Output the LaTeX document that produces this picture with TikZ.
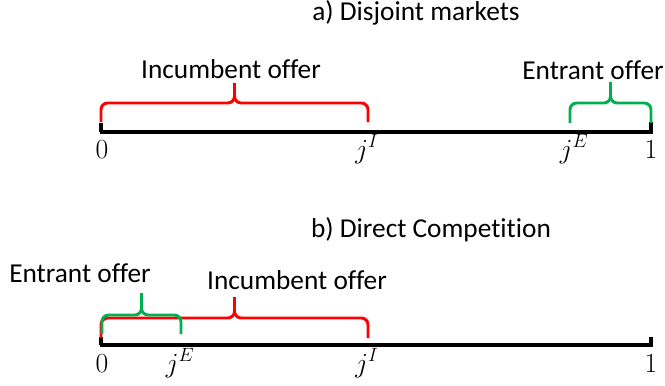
\documentclass[tikz,border=0pt]{standalone}
\usepackage{xcolor}
\usepackage{amsmath}
\usepackage{fontspec}
\setmainfont{Carlito}[Ligatures={NoCommon}]
\usepackage{tikz}
\definecolor{incred}{RGB}{255,0,0}
\definecolor{entgreen}{RGB}{0,176,80}
\tikzset{
  axis/.style={line width=3pt},
  txt/.style={font=\fontsize{20.5}{24}\selectfont,anchor=base,inner sep=0pt},
  lab/.style={font=\fontsize{21}{24}\selectfont,anchor=base,inner sep=0pt},
}
% brace: colour, left x, right x, bottom y, line y, tip y
\newcommand{\offerbrace}[6]{%
  \draw[#1,line width=2.2pt,rounded corners=5pt]
    (#2,#4) -- (#2,#5) -- ({(#2+#3)/2},#5) -- ({(#2+#3)/2},#6);
  \draw[#1,line width=2.2pt,rounded corners=5pt]
    (#3,#4) -- (#3,#5) -- ({(#2+#3)/2},#5) -- ({(#2+#3)/2},#6);
}

\begin{document}
\begin{tikzpicture}[x=0.75pt,y=-0.75pt]
  \useasboundingbox (0,0) rectangle (665,386);
  % a) Disjoint markets
  \node[txt] (titleA) at (416,20) {a) Disjoint markets};
  \coordinate (a0) at (100,132);
  \coordinate (a1) at (653,132);
  \draw[axis] (a0) -- (a1);
  \draw[axis] (101,132) -- (101,123);
  \draw[axis] (651,132) -- (651,122);
  \node[lab] (zeroA) at (102,158) {$0$};
  \node[lab] (jIA) at (367,158) {$j^{I}$};
  \node[lab] (jEA) at (574,158) {$j^{E}$};
  \node[lab] (oneA) at (651,158) {$1$};
  % Incumbent offer
  \offerbrace{incred}{101}{368}{122}{103}{83}
  \node[txt] (incA) at (231,78) {Incumbent offer};
  % Entrant offer
  \offerbrace{entgreen}{570}{651}{123}{103}{82}
  \node[txt] (entA) at (593,79) {Entrant offer};

  % b) Direct Competition
  \node[txt] (titleB) at (431,237) {b) Direct Competition};
  \coordinate (b0) at (100,345);
  \coordinate (b1) at (653,345);
  \draw[axis] (b0) -- (b1);
  \draw[axis] (101,345) -- (101,337);
  \draw[axis] (651,345) -- (651,337);
  \node[lab] (zeroB) at (102,372) {$0$};
  \node[lab] (jEB) at (180,372) {$j^{E}$};
  \node[lab] (jIB) at (367,372) {$j^{I}$};
  \node[lab] (oneB) at (651,372) {$1$};
  % Incumbent offer
  \offerbrace{incred}{101}{368}{338}{318}{297}
  \node[txt] (incB) at (297,289) {Incumbent offer};
  % Entrant offer
  \offerbrace{entgreen}{102}{181}{334}{315}{293}
  \node[txt] (entB) at (80,282) {Entrant offer};
\end{tikzpicture}
\end{document}
